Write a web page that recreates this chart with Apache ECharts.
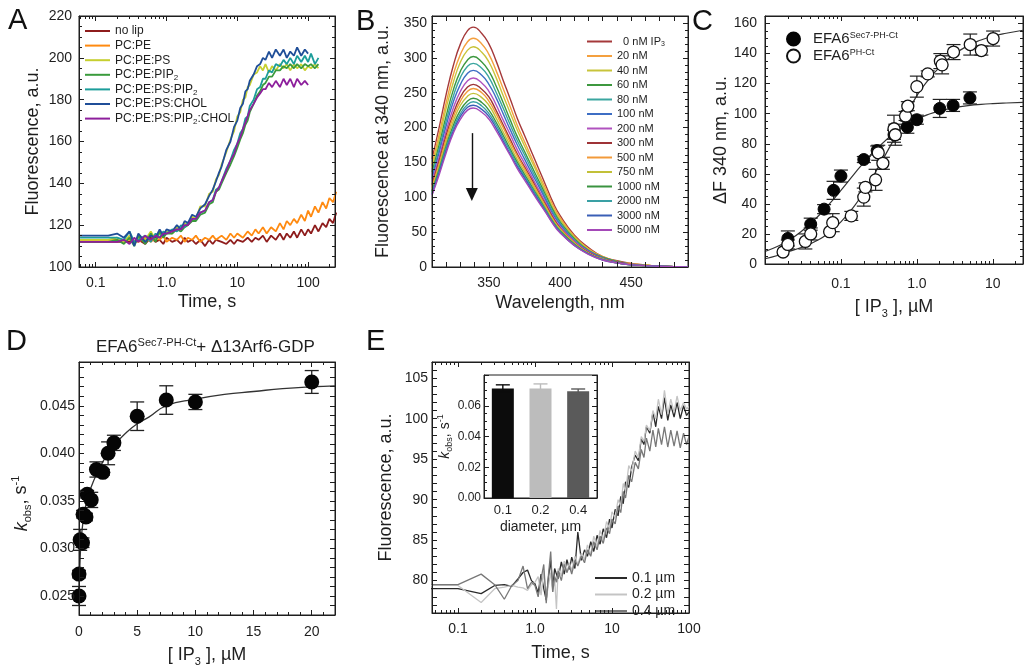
<!DOCTYPE html>
<html>
<head>
<meta charset="utf-8">
<script src="https://cdn.jsdelivr.net/npm/echarts@6.0.0/dist/echarts.min.js"></script>
<style>
html, body { margin: 0; padding: 0; background: #fff; }
#chart { width: 1027px; height: 668px; }
</style>
</head>
<body>
<div id="chart"></div>
<script>
// ---------- A : time courses with liposomes ----------
var aNames = ['no lip', 'PC:PE', 'PC:PE:PS', 'PC:PE:PIP2', 'PC:PE:PS:PIP2', 'PC:PE:PS:CHOL', 'PC:PE:PS:PIP2:CHOL'];
var aColors = ['#8e1c1c', '#ff8a10', '#c6cf2f', '#3a9b3c', '#1c9d9a', '#1f4e98', '#8d1f9c'];
var tLong = [0.06, 0.1, 0.2, 0.3, 0.4, 0.5, 0.6, 0.7, 0.8, 0.9, 1.0, 1.2, 1.4, 1.6, 1.8, 2.0, 2.3, 2.6, 3.0, 3.5,
	4.0, 4.5, 5, 6, 7, 8, 9, 10, 12, 14, 16, 18, 20, 23, 26, 30, 35, 40, 45, 50,
	56, 63, 70, 80, 90, 100, 110, 125, 140, 160, 180, 200, 225, 250];
var tRise = [0.06, 0.1, 0.15, 0.2, 0.25, 0.3, 0.35, 0.4, 0.5, 0.6, 0.7, 0.8, 0.9, 1.0, 1.2, 1.4, 1.6, 1.8, 2.0, 2.3,
	2.6, 3.0, 3.5, 4.0, 4.5, 5.0, 5.5, 6, 7, 8, 9, 10, 11, 12, 13, 14, 15, 17, 19, 21,
	23, 25, 28, 31, 35, 40, 45, 50, 56, 63, 70, 80, 90, 100, 110, 125, 140];
var aNoLip = [112, 112, 112, 112, 113, 111, 114, 112, 113, 111, 114, 112, 113, 111, 114, 112, 113, 111, 113, 110,
	113, 111, 113, 112, 111, 113, 111, 113, 112, 114, 112, 114, 113, 115, 112, 115, 113, 116, 113, 116,
	114, 117, 114, 118, 115, 118, 116, 120, 117, 121, 119, 123, 121, 126];
var aPCPE = [113, 113, 113, 113, 112, 114, 112, 114, 113, 115, 112, 114, 113, 115, 112, 114, 113, 115, 112, 114,
	113, 115, 113, 115, 113, 116, 114, 116, 114, 117, 115, 118, 116, 119, 116, 119, 117, 121, 118, 122,
	120, 123, 121, 125, 122, 127, 124, 129, 126, 131, 128, 133, 131, 136];
var aPS = [113, 113, 113, 114, 112, 115, 111, 114, 113, 117, 113, 116, 115, 117, 116, 119, 118, 121, 120, 124,
	123, 129, 129, 135, 136, 142, 144, 149, 155, 161, 165, 172, 174, 180, 181, 186, 187, 192, 193, 196,
	194, 197, 193, 196, 194, 197, 195, 197, 194, 197, 195, 197, 194, 196, 195, 197, 195];
var aPIP2 = [112, 112, 112, 113, 111, 114, 110, 115, 111, 116, 112, 117, 114, 116, 116, 118, 117, 119, 120, 122,
	122, 125, 126, 130, 131, 136, 137, 140, 145, 149, 153, 157, 161, 164, 168, 170, 174, 178, 182, 184,
	187, 188, 191, 191, 194, 194, 196, 195, 197, 195, 197, 195, 197, 196, 197, 195, 197];
var aPSPIP2 = [114, 114, 114, 114, 113, 117, 112, 113, 115, 112, 116, 114, 117, 116, 118, 117, 120, 119, 121, 123,
	123, 126, 127, 131, 132, 137, 138, 141, 147, 151, 156, 159, 164, 166, 171, 172, 177, 180, 185, 186,
	190, 190, 194, 193, 197, 196, 199, 197, 200, 197, 201, 198, 201, 198, 202, 197, 200];
var aCHOL = [115, 115, 115, 116, 114, 117, 110, 116, 112, 115, 114, 118, 115, 118, 117, 120, 118, 122, 121, 125,
	124, 128, 130, 134, 137, 141, 145, 148, 156, 160, 167, 170, 176, 178, 184, 185, 189, 192, 196, 197,
	200, 199, 203, 200, 204, 201, 204, 200, 203, 201, 205, 201, 204, 202];
var aPIP2CHOL = [112, 112, 112, 112, 113, 111, 114, 112, 115, 113, 115, 114, 116, 116, 117, 118, 118, 120, 120, 123,
	123, 126, 127, 131, 132, 136, 138, 141, 146, 151, 154, 159, 162, 166, 169, 172, 175, 178, 181, 183,
	185, 185, 188, 186, 189, 186, 190, 187, 190, 186, 190, 187, 189, 187];

// ---------- B : emission spectra ----------
var bNames = ['0 nM IP3', '20 nM', '40 nM', '60 nM', '80 nM', '100 nM', '200 nM', '300 nM', '500 nM', '750 nM', '1000 nM', '2000 nM', '3000 nM', '5000 nM'];
var bColors = ['#a5393a', '#f4a03f', '#c8c43b', '#3d983f', '#3ba6a0', '#3d6ec4', '#b052bf',
	'#9e3336', '#f29a3a', '#c2c038', '#3a9340', '#3aa0a4', '#3a5fb6', '#a449b8'];
var bWl = [310, 315, 320, 325, 330, 335, 339, 345, 350, 355, 360, 365, 370, 375, 380, 385, 390, 395, 400, 410, 420, 430, 440, 450, 460, 470, 490];
var b0 = [155, 200, 248, 289, 320, 339, 344, 335, 320, 296, 268, 241, 213, 189, 165, 141, 117, 93, 74, 46, 28, 15, 9, 5, 3, 1, 0];
var b20 = [148, 190, 236, 276, 305, 323, 328, 320, 305, 282, 256, 230, 203, 180, 157, 134, 112, 89, 71, 44, 26, 15, 8, 5, 3, 1, 0];
var b40 = [142, 183, 228, 265, 294, 311, 316, 308, 294, 272, 246, 221, 196, 174, 152, 130, 107, 85, 68, 43, 25, 14, 8, 4, 3, 1, 0];
var b60 = [136, 175, 217, 254, 281, 297, 302, 294, 281, 260, 236, 211, 187, 166, 145, 124, 103, 82, 65, 41, 24, 14, 8, 4, 2, 1, 0];
var b80 = [131, 169, 210, 245, 272, 288, 292, 285, 272, 251, 228, 204, 181, 161, 140, 120, 99, 79, 63, 39, 23, 13, 7, 4, 2, 1, 0];
var b100 = [127, 164, 203, 237, 262, 278, 282, 275, 262, 243, 220, 197, 175, 155, 135, 116, 96, 76, 61, 38, 23, 13, 7, 4, 2, 1, 0];
var b200 = [122, 157, 195, 228, 252, 267, 271, 264, 252, 233, 211, 190, 168, 149, 130, 111, 92, 73, 58, 37, 22, 12, 7, 4, 2, 1, 0];
var b300 = [118, 152, 189, 220, 244, 258, 262, 255, 244, 225, 204, 183, 162, 144, 126, 107, 89, 71, 56, 35, 21, 12, 7, 4, 2, 1, 0];
var b500 = [115, 148, 184, 215, 238, 252, 256, 250, 238, 220, 200, 179, 159, 141, 123, 105, 87, 69, 55, 35, 20, 12, 6, 4, 2, 1, 0];
var b750 = [112, 144, 179, 209, 232, 245, 249, 243, 232, 214, 194, 174, 154, 137, 120, 102, 85, 67, 54, 34, 20, 11, 6, 3, 2, 1, 0];
var b1000 = [109, 140, 174, 203, 225, 238, 242, 236, 225, 208, 189, 169, 150, 133, 116, 99, 82, 65, 52, 33, 19, 11, 6, 3, 2, 1, 0];
var b2000 = [107, 137, 171, 199, 220, 233, 237, 231, 220, 204, 185, 166, 147, 130, 114, 97, 81, 64, 51, 32, 19, 11, 6, 3, 2, 1, 0];
var b3000 = [104, 135, 167, 195, 216, 229, 232, 226, 216, 200, 181, 162, 144, 128, 111, 95, 79, 63, 50, 31, 19, 10, 6, 3, 2, 1, 0];
var b5000 = [103, 132, 164, 192, 212, 225, 228, 222, 212, 196, 178, 160, 141, 125, 109, 93, 78, 62, 49, 31, 18, 10, 6, 3, 2, 1, 0];
var bArrow = [338, 192, 104]; // wavelength, start, end

// ---------- C : titration ----------
var cFillX = [0.02, 0.04, 0.06, 0.08, 0.1, 0.2, 0.3, 0.5, 0.75, 1.0, 2.0, 3.0, 5.0];
var cFillY = [17, 26.5, 36.5, 49, 58.5, 69.5, 75.5, 86, 91, 96, 103.5, 105.5, 110.5];
var cFillE = [5, 4, 3, 6, 4, 2, 3, 3, 4, 3, 6, 4, 4];
var cOpenX = [0.0173, 0.02, 0.034, 0.04, 0.071, 0.078, 0.137, 0.2, 0.21, 0.286, 0.31, 0.357, 0.5, 0.52, 0.71, 0.76, 1.0, 1.39, 2.04, 2.15, 3.04, 5.05, 7.07, 10.1];
var cOpenY = [8, 13, 15, 20, 21.5, 27.5, 32, 44.5, 51, 56, 74, 67, 90, 86, 98.5, 105, 118, 126.5, 135, 132.5, 141, 146, 142, 150];
var cOpenE = [0, 3, 5, 4, 0, 6, 3, 6, 3, 7, 5, 4, 9, 7, 3, 3, 7, 2, 5, 6, 5, 7, 3, 5];
var cFitX = [0.01, 0.015, 0.02, 0.03, 0.05, 0.07, 0.1, 0.15, 0.2, 0.3, 0.5, 0.7, 1, 1.5, 2, 3, 5, 7, 10, 15, 25];
var cFitFill = [8.3, 12, 15.4, 21.6, 31.8, 39.8, 49, 60, 67.5, 77, 87, 92, 96.4, 100, 101.9, 103.8, 105.5, 106.2, 106.7, 107.1, 107.5];
var cFitOpen = [3.5, 5.8, 8.2, 11, 16, 21, 28, 38.5, 48, 63, 83, 97, 112, 124, 131, 139, 146, 149, 151.5, 153.5, 155.5];

// ---------- D : kobs vs IP3 ----------
var dX = [0, 0, 0.1, 0.3, 0.35, 0.6, 0.7, 1.05, 1.5, 2.05, 2.5, 3.0, 5.0, 7.5, 10, 20];
var dY = [0.0250, 0.0273, 0.0309, 0.0306, 0.0336, 0.0333, 0.0357, 0.0351, 0.0383, 0.0380, 0.0400, 0.0411, 0.0439, 0.0456, 0.0454, 0.0475];
var dE = [0.0010, 0.0004, 0.0011, 0.0005, 0.0004, 0.0004, 0.0004, 0.0008, 0.0008, 0.0003, 0.0012, 0.0008, 0.0015, 0.0015, 0.0008, 0.0012];
var dFitX = [0, 0.1, 0.25, 0.5, 0.75, 1, 1.5, 2, 2.5, 3, 4, 5, 6, 7.5, 10, 12.5, 15, 17.5, 20, 22];
var dFit = [0.0250, 0.0290, 0.0318, 0.0340, 0.0353, 0.0363, 0.0378, 0.0390, 0.0400, 0.0408, 0.0421, 0.0431, 0.0438, 0.0450, 0.0457, 0.0462, 0.0465, 0.0468, 0.0470, 0.0471];

// ---------- E : liposome size ----------
var eNames = ['0.1 µm', '0.2 µm', '0.4 µm'];
var eColors = ['#2a2a2a', '#c4c4c4', '#787878'];
var tE = [0.04, 0.1, 0.2, 0.3, 0.4, 0.5, 0.6, 0.7, 0.8, 0.9, 1.0, 1.1, 1.2, 1.3, 1.4, 1.5, 1.6, 1.7, 1.8, 1.9,
	2.0, 2.2, 2.4, 2.6, 2.8, 3.0, 3.3, 3.6, 4.0, 4.4, 4.8, 5.3, 5.8, 6.4, 7, 7.7, 8.5, 9.3, 10, 11,
	12, 13, 14, 15, 16.5, 18, 20, 22, 24, 26, 28, 31, 34, 37, 40, 44, 48, 53, 58, 64, 70, 77, 85, 93, 100];
var eDark = [79, 79, 78.4, 79.4, 79.5, 79.3, 80.2, 81, 81.3, 80, 79.6, 78.5, 80.8, 79, 77.6, 80.5, 82.5, 79, 81.5, 80.8,
	80.2, 82.3, 80.8, 82.6, 81.4, 82.9, 81.5, 86, 82.5, 83.8, 83, 84.8, 83.6, 85.6, 84.5, 86.4, 85.3, 87.6, 86.5, 88.8,
	88, 90.4, 89.5, 92.2, 91.5, 94, 95.5, 94.8, 97.5, 96.8, 99, 98.2, 100.8, 99, 101.5, 100, 102.6, 99.8, 101.7, 100.2,
	102, 100, 101.6, 100.4, 100.8];
var eLight = [79.4, 79.4, 77.3, 79, 79.2, 79.4, 79.2, 79.1, 78.8, 79.5, 79.8, 80.5, 78.2, 81.2, 77.8, 79.5, 81, 78.6, 80.2, 76.5,
	81.5, 80.6, 82.4, 81, 82.2, 81.2, 83, 82, 83.4, 82.6, 84.4, 83.2, 85.5, 84.2, 86.2, 85, 87.3, 86.4, 88.5, 87.8,
	90, 89.2, 92, 91, 94.2, 93.5, 96, 95.2, 97.8, 97.2, 99.2, 98.5, 101, 100, 102.4, 100.5, 103.5, 100.6, 102.4, 100.8,
	102.8, 101, 102, 101.2, 101.5];
var eMid = [79.5, 79.5, 80.8, 79.5, 77.7, 79.4, 80, 81.8, 79, 79.8, 79.4, 78, 80.2, 82, 77.2, 80.8, 83.6, 78.6, 80.5, 79.8,
	81.2, 80, 82, 81, 81.8, 80.8, 82.5, 81.8, 83, 82.2, 83.8, 83, 84.8, 83.8, 85.5, 84.6, 86.5, 85.8, 87.6, 87,
	89.2, 88.4, 91, 90.2, 93, 92.2, 94.6, 93.8, 96.2, 95.2, 97.6, 96, 98.6, 96.5, 98.8, 96.8, 99, 96.5, 98.6, 96.6,
	98.5, 96.4, 98.2, 96.8, 97.8];
var eBarCats = ['0.1', '0.2', '0.4'];
var eBarVals = [0.0713, 0.0713, 0.0694];
var eBarErr = [0.0023, 0.0029, 0.0015];
var eBarColors = ['#0c0c0c', '#bcbcbc', '#5a5a5a'];

// ---------- helpers ----------
var INK = '#1e1e1e';
var FONT = '"Liberation Sans", Arial, Helvetica, sans-serif';

function pairs(xs, ys) {
	return ys.map(function (y, i) { return [xs[i], y]; });
}
function triples(xs, ys, es) {
	return ys.map(function (y, i) { return [xs[i], y, es[i]]; });
}
function rich(fs) {
	var lh = Math.round(fs * 1.25);
	var s = Math.round(fs * 0.62);
	var base = { lineHeight: lh, color: INK, fontFamily: FONT, fontWeight: 'normal' };
	return {
		n: Object.assign({ fontSize: fs }, base),
		i: Object.assign({ fontSize: fs, fontStyle: 'italic' }, base),
		sub: Object.assign({ fontSize: s, verticalAlign: 'bottom' }, base),
		sup: Object.assign({ fontSize: s, verticalAlign: 'top' }, base)
	};
}
function logFmt(v) {
	var e = Math.log10(v), r = Math.round(e);
	if (Math.abs(e - r) > 1e-6) return '';
	if (r === 0) return '1.0';
	return r < 0 ? Math.pow(10, r).toFixed(-r) : String(Math.pow(10, r));
}
function ax(o) {
	var a = {
		gridIndex: o.g,
		type: o.type || 'value',
		position: o.pos,
		axisLine: { show: true, onZero: false, lineStyle: { color: INK, width: 1 } },
		axisTick: { show: o.tick !== false, inside: true, length: o.tl || 5, lineStyle: { color: INK, width: 1 } },
		minorTick: { show: !!o.minor, splitNumber: o.minor || 5, length: 3, lineStyle: { color: INK, width: 1 } },
		splitLine: { show: false },
		minorSplitLine: { show: false },
		axisLabel: { show: !!o.label, color: INK, fontFamily: FONT, fontSize: o.fs || 14, margin: o.margin || 8 },
		z: 5
	};
	if (o.min != null) a.min = o.min;
	if (o.max != null) a.max = o.max;
	if (o.type === 'log') a.logBase = 10;
	if (o.interval != null) a.interval = o.interval;
	if (o.data) a.data = o.data;
	if (o.fmt) a.axisLabel.formatter = o.fmt;
	if (o.showMin != null) a.axisLabel.showMinLabel = o.showMin;
	if (o.showMax != null) a.axisLabel.showMaxLabel = o.showMax;
	if (o.name) {
		var nfs = o.nfs || 18;
		a.name = o.name;
		a.nameLocation = 'middle';
		a.nameGap = o.gap;
		a.nameTextStyle = { color: INK, fontFamily: FONT, fontSize: nfs, rich: rich(nfs) };
		if (o.npad) a.nameTextStyle.padding = o.npad;
	}
	return a;
}
function errBars(xi, yi, data, cap, color, lw) {
	return {
		type: 'custom', name: 'err' + xi + '_' + color, xAxisIndex: xi, yAxisIndex: yi,
		data: data, encode: { x: 0, y: 1 }, silent: true, z: 3,
		renderItem: function (params, api) {
			var x = api.value(0), y = api.value(1), e = api.value(2);
			if (!e) return null;
			var lo = api.coord([x, y - e]), hi = api.coord([x, y + e]);
			var st = { stroke: color, lineWidth: lw || 1.2 };
			return {
				type: 'group', children: [
					{ type: 'line', shape: { x1: lo[0], y1: lo[1], x2: hi[0], y2: hi[1] }, style: st },
					{ type: 'line', shape: { x1: lo[0] - cap, y1: lo[1], x2: lo[0] + cap, y2: lo[1] }, style: st },
					{ type: 'line', shape: { x1: hi[0] - cap, y1: hi[1], x2: hi[0] + cap, y2: hi[1] }, style: st }
				]
			};
		}
	};
}
function lineSeries(name, xi, yi, data, color, width, smooth) {
	return {
		type: 'line', name: name, xAxisIndex: xi, yAxisIndex: yi, data: data,
		symbol: 'none', showSymbol: false, smooth: !!smooth, clip: true,
		lineStyle: { color: color, width: width }, itemStyle: { color: color }, z: 2
	};
}

var grids = [
	{ left: 79, top: 16, width: 256, height: 251 },
	{ left: 432, top: 16, width: 256, height: 251 },
	{ left: 765, top: 16, width: 258, height: 248 },
	{ left: 79, top: 362, width: 256, height: 253 },
	{ left: 432, top: 362, width: 257, height: 251 },
	{ left: 484, top: 375, width: 113, height: 123, backgroundColor: '#fff' }
].map(function (g) {
	g.show = true;
	g.borderColor = INK;
	g.borderWidth = 1;
	g.containLabel = false;
	g.outerBoundsMode = 'none';
	if (!g.backgroundColor) g.backgroundColor = 'transparent';
	return g;
});

var ipName = '{n|[ IP}{sub|3}{n| ], µM}';
var kName = '{i|k}{sub|obs}{n|, s}{sup|-1}';

var xAxes = [
	ax({ g: 0, type: 'log', pos: 'bottom', min: 0.058, max: 240, minor: 9, label: true, fmt: logFmt, showMin: false, showMax: false, margin: 9, name: 'Time, s', gap: 26 }),
	ax({ g: 0, type: 'log', pos: 'top', min: 0.058, max: 240, minor: 9 }),
	ax({ g: 1, pos: 'bottom', min: 310, max: 490, interval: 10, label: true, margin: 9, fmt: function (v) { return v % 50 === 0 ? String(v) : ''; }, name: 'Wavelength, nm', gap: 27 }),
	ax({ g: 1, pos: 'top', min: 310, max: 490, interval: 10 }),
	ax({ g: 2, type: 'log', pos: 'bottom', min: 0.01, max: 25, minor: 9, label: true, fmt: logFmt, showMin: false, showMax: false, margin: 13, name: ipName, gap: 32 }),
	ax({ g: 2, type: 'log', pos: 'top', min: 0.01, max: 25, minor: 9 }),
	ax({ g: 3, pos: 'bottom', min: 0, max: 22, interval: 5, minor: 5, label: true, showMax: false, margin: 10, name: ipName, gap: 29 }),
	ax({ g: 3, pos: 'top', min: 0, max: 22, interval: 5, minor: 5 }),
	ax({ g: 4, type: 'log', pos: 'bottom', min: 0.046, max: 100, minor: 9, label: true, fmt: logFmt, showMin: false, margin: 9, name: 'Time, s', gap: 31 }),
	ax({ g: 4, type: 'log', pos: 'top', min: 0.046, max: 100, minor: 9 }),
	ax({ g: 5, type: 'category', pos: 'bottom', data: eBarCats, tick: false, label: true, fs: 13, margin: 6, name: 'diameter, µm', nfs: 14, gap: 22 })
];
var yAxes = [
	ax({ g: 0, pos: 'left', min: 100, max: 220, interval: 20, minor: 4, label: true, margin: 7, name: 'Fluorescence, a.u.', gap: 37 }),
	ax({ g: 0, pos: 'right', min: 100, max: 220, interval: 20, minor: 4 }),
	ax({ g: 1, pos: 'left', min: 0, max: 360, interval: 50, minor: 5, label: true, showMax: false, margin: 5, name: 'Fluorescence at 340 nm, a.u.', gap: 40 }),
	ax({ g: 1, pos: 'right', min: 0, max: 360, interval: 50, minor: 5 }),
	ax({ g: 2, pos: 'left', min: 0, max: 165, interval: 20, minor: 4, label: true, showMax: false, margin: 8, name: 'ΔF 340 nm, a.u.', gap: 25 }),
	ax({ g: 2, pos: 'right', min: 0, max: 165, interval: 20, minor: 4 }),
	ax({ g: 3, pos: 'left', min: 0.023, max: 0.0496, interval: 0.001, label: true, margin: 4, fmt: function (v) {
		var m = v * 1000, r = Math.round(m);
		return (Math.abs(m - r) < 1e-6 && r % 5 === 0) ? v.toFixed(3) : '';
	}, name: kName, gap: 46, npad: [0, 30, 0, 0] }),
	ax({ g: 3, pos: 'right', min: 0.023, max: 0.0496, interval: 0.001 }),
	ax({ g: 4, pos: 'left', min: 76, max: 107, interval: 1, label: true, margin: 4, fmt: function (v) { return v % 5 === 0 ? String(v) : ''; }, name: 'Fluorescence, a.u.', gap: 37 }),
	ax({ g: 4, pos: 'right', min: 76, max: 107, interval: 1 }),
	ax({ g: 5, pos: 'left', min: 0, max: 0.08, interval: 0.02, minor: 4, label: true, showMax: false, fs: 12, margin: 3, fmt: function (v) { return v.toFixed(2); }, name: kName, nfs: 14, gap: 30 }),
	ax({ g: 5, pos: 'right', min: 0, max: 0.08, interval: 0.02, minor: 4 })
];

// ---------- series ----------
var series = [];
var aT = [tLong, tLong, tRise, tRise, tRise, tRise, tRise];
var aV = [aNoLip, aPCPE, aPS, aPIP2, aPSPIP2, aCHOL, aPIP2CHOL];
aNames.forEach(function (n, i) {
	series.push(lineSeries(n, 0, 0, pairs(aT[i], aV[i]), aColors[i], 1.8));
});

var bCurves = [b0, b20, b40, b60, b80, b100, b200, b300, b500, b750, b1000, b2000, b3000, b5000];
bNames.forEach(function (n, i) {
	series.push(lineSeries(n, 2, 2, pairs(bWl, bCurves[i]), bColors[i], 1.4, true));
});
series[aNames.length].markLine = {
	silent: true, animation: false,
	symbol: ['none', 'triangle'], symbolSize: [12, 13],
	lineStyle: { color: '#111', width: 1.4, type: 'solid' },
	label: { show: false },
	data: [[{ coord: [bArrow[0], bArrow[1]] }, { coord: [bArrow[0], bArrow[2]] }]]
};

series.push(lineSeries('fitFill', 4, 4, pairs(cFitX, cFitFill), '#333', 1.2, true));
series.push(lineSeries('fitOpen', 4, 4, pairs(cFitX, cFitOpen), '#333', 1.2, true));
series.push(errBars(4, 4, triples(cFillX, cFillY, cFillE), 7, '#222'));
series.push(errBars(4, 4, triples(cOpenX, cOpenY, cOpenE), 7, '#222'));
series.push({
	type: 'scatter', name: 'EFA6Sec7-PH-Ct', xAxisIndex: 4, yAxisIndex: 4, data: pairs(cFillX, cFillY),
	symbol: 'circle', symbolSize: 12, itemStyle: { color: '#050505', borderColor: '#050505', borderWidth: 1, opacity: 1 }, z: 4
});
series.push({
	type: 'scatter', name: 'EFA6PH-Ct', xAxisIndex: 4, yAxisIndex: 4, data: pairs(cOpenX, cOpenY),
	symbol: 'circle', symbolSize: 12, itemStyle: { color: '#fff', borderColor: '#111', borderWidth: 1.3, opacity: 1 }, z: 4
});

series.push(lineSeries('fitD', 6, 6, pairs(dFitX, dFit), '#333', 1.3, true));
series.push(errBars(6, 6, triples(dX, dY, dE), 7, '#222', 1.3));
series.push({
	type: 'scatter', name: 'kobs', xAxisIndex: 6, yAxisIndex: 6, data: pairs(dX, dY),
	symbol: 'circle', symbolSize: 15, itemStyle: { color: '#050505', opacity: 1 }, z: 4
});

var eV = [eDark, eLight, eMid];
eNames.forEach(function (n, i) {
	series.push(lineSeries(n, 8, 8, pairs(tE, eV[i]), eColors[i], 1.3));
});
series.push({
	type: 'bar', name: 'kobsBar', xAxisIndex: 10, yAxisIndex: 10, barWidth: 22,
	data: eBarVals.map(function (v, i) { return { value: v, itemStyle: { color: eBarColors[i], opacity: 1 } }; }),
	z: 2
});
eBarVals.forEach(function (v, i) {
	series.push(errBars(10, 10, [[i, v, eBarErr[i]]], 7, eBarColors[i], 1.4));
});

// ---------- legends & titles ----------
var legText = function (fs, lh, extra) {
	var r = { color: INK, fontFamily: FONT, fontSize: fs, lineHeight: lh, rich: {
		s: { fontSize: Math.round(fs * 0.68), lineHeight: lh, verticalAlign: 'bottom', color: INK, fontFamily: FONT },
		p: { fontSize: Math.round(fs * 0.6), lineHeight: lh, verticalAlign: 'top', color: INK, fontFamily: FONT }
	} };
	if (extra) r.padding = extra;
	return r;
};
var legends = [
	{
		data: aNames, left: 85, top: 24, orient: 'vertical', padding: 0, icon: 'rect',
		itemWidth: 25, itemHeight: 2, itemGap: 0.6,
		selectedMode: false, textStyle: legText(12, 14),
		formatter: function (n) { return n.replace('PIP2', 'PIP{s|2}'); }
	},
	{
		data: bNames, left: 587, top: 35, orient: 'vertical', padding: 0, icon: 'rect',
		itemWidth: 25, itemHeight: 2, itemGap: 1.5,
		selectedMode: false, textStyle: legText(11, 13),
		formatter: function (n) { return n === '0 nM IP3' ? '  0 nM IP{s|3}' : n; }
	},
	{
		data: ['EFA6Sec7-PH-Ct', 'EFA6PH-Ct'], left: 786, top: 31, orient: 'vertical', padding: 0, icon: 'circle',
		itemWidth: 13, itemHeight: 13, itemGap: 1,
		selectedMode: false, textStyle: legText(15, 16, [0, 0, 0, 8]),
		formatter: function (n) { return n === 'EFA6PH-Ct' ? 'EFA6{p|PH-Ct}' : 'EFA6{p|Sec7-PH-Ct}'; }
	},
	{
		data: eNames, left: 595, top: 570, orient: 'vertical', padding: 0, icon: 'rect',
		itemWidth: 32, itemHeight: 2, itemGap: 0.5,
		selectedMode: false, textStyle: legText(14, 16)
	}
];

var letterStyle = { fontSize: 29, fontWeight: 'normal', color: '#111', fontFamily: FONT };
var titles = [
	{ text: 'A', left: 8, top: 6, padding: 0, textStyle: letterStyle },
	{ text: 'B', left: 356, top: 7, padding: 0, textStyle: letterStyle },
	{ text: 'C', left: 692, top: 7, padding: 0, textStyle: letterStyle },
	{ text: 'D', left: 6, top: 327, padding: 0, textStyle: letterStyle },
	{ text: 'E', left: 366, top: 327, padding: 0, textStyle: letterStyle },
	{ text: '{n|EFA6}{sup|Sec7-PH-Ct}{n|+ Δ13Arf6-GDP}', left: 96, top: 337, padding: 0, textStyle: { fontWeight: 'normal', rich: rich(17) } }
];

var chart = echarts.init(document.getElementById('chart'), null, { renderer: 'canvas' });
chart.setOption({
	animation: false,
	backgroundColor: '#fff',
	textStyle: { fontFamily: FONT, color: INK },
	title: titles,
	legend: legends,
	grid: grids,
	xAxis: xAxes,
	yAxis: yAxes,
	series: series
});
</script>
</body>
</html>
